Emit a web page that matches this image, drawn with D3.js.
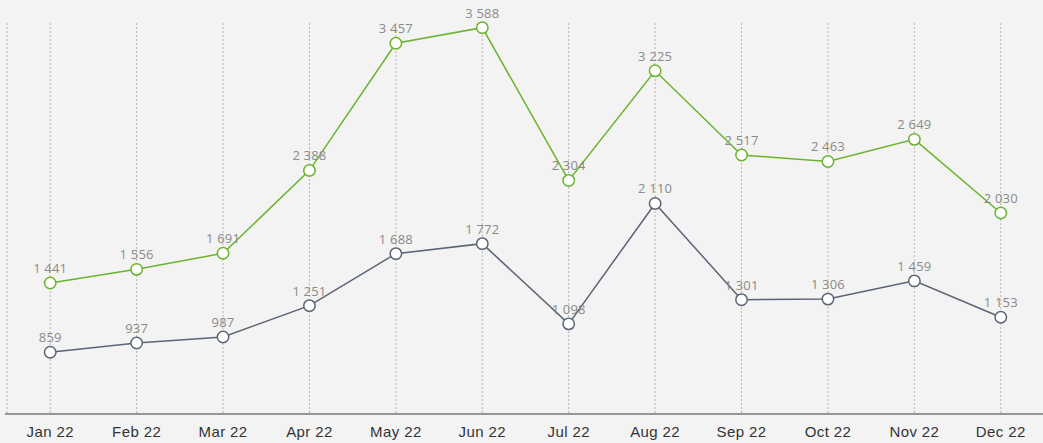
<!DOCTYPE html>
<html>
<head>
<meta charset="utf-8">
<script src="https://cdn.jsdelivr.net/npm/d3@7"></script>
<style>
  body { margin: 0; background: #f3f3f3; }
  svg { display: block; font-family: "Open Sans", "Noto Sans", sans-serif; }
</style>
</head>
<body>
<div id="chart"></div>
<script>
var months = ["Jan 22", "Feb 22", "Mar 22", "Apr 22", "May 22", "Jun 22",
              "Jul 22", "Aug 22", "Sep 22", "Oct 22", "Nov 22", "Dec 22"];
var greenValues = [1441, 1556, 1691, 2388, 3457, 3588, 2304, 3225, 2517, 2463, 2649, 2030];
var greyValues = [859, 937, 987, 1251, 1688, 1772, 1098, 2110, 1301, 1306, 1459, 1153];
var yDomain = [340, 3627];

var width = 1043, height = 443;
var svg = d3.select("#chart").append("svg")
    .attr("width", width).attr("height", height);

var x = d3.scaleBand().domain(months).range([7, 1044]);
var y = d3.scaleLinear().domain(yDomain).range([414, 23]);
var cx = function(d) { return x(d) + x.bandwidth() / 2; };

// vertical dotted grid
var gridX = [7].concat(months.map(cx));
svg.append("g").selectAll("line").data(gridX).join("line")
    .attr("x1", function(d) { return d; }).attr("x2", function(d) { return d; })
    .attr("y1", y(yDomain[1])).attr("y2", y(yDomain[0]))
    .attr("stroke", "#b4b4b4").attr("stroke-width", 1)
    .attr("stroke-dasharray", "2,2");

// x axis
var xAxis = d3.axisBottom(x).tickSize(0).tickPadding(12);
var gx = svg.append("g").attr("transform", "translate(0," + y(yDomain[0]) + ")").call(xAxis);
gx.select(".domain").attr("stroke", "#777").attr("stroke-width", 1.5).attr("d", "M5,0H1043");
gx.selectAll("text").attr("fill", "#333").style("font-size", "15px")
    .style("letter-spacing", "0.4px");

var fmt = function(v) { return d3.format(",")(v).replace(/,/g, " "); };

function drawSeries(values, color) {
    var line = d3.line()
        .x(function(d, i) { return cx(months[i]); })
        .y(function(d) { return y(d); });
    svg.append("path").datum(values)
        .attr("d", line).attr("fill", "none")
        .attr("stroke", color).attr("stroke-width", 1.5);
    svg.append("g").selectAll("circle").data(values).join("circle")
        .attr("cx", function(d, i) { return cx(months[i]); })
        .attr("cy", function(d) { return y(d); })
        .attr("r", 5.7).attr("fill", "#fff")
        .attr("stroke", color).attr("stroke-width", 1.5);
    svg.append("g").selectAll("text").data(values).join("text")
        .attr("x", function(d, i) { return cx(months[i]); })
        .attr("y", function(d) { return y(d) - 10; })
        .attr("text-anchor", "middle")
        .attr("fill", "#8a8a8a").style("font-size", "13px")
        .style("letter-spacing", "0.2px")
        .text(fmt);
}

drawSeries(greyValues, "#5b6475");
drawSeries(greenValues, "#6ab42d");
</script>
</body>
</html>
